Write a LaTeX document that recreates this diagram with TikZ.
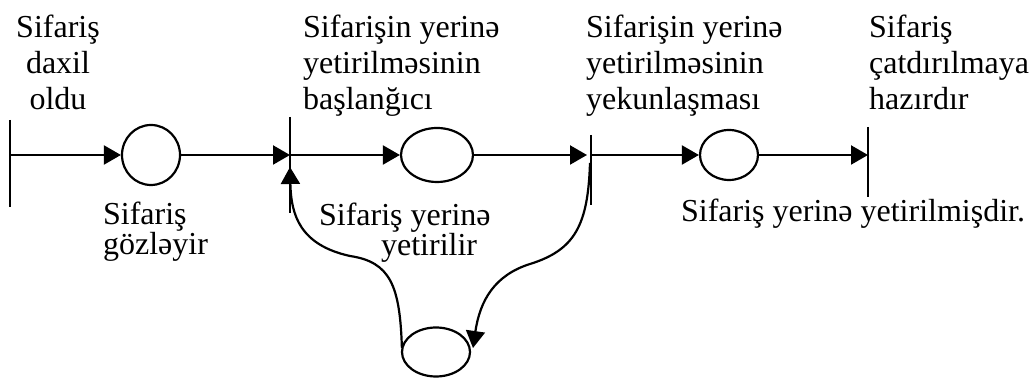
\documentclass[tikz,border=0pt]{standalone}
\usepackage{fontspec}
\setmainfont{Liberation Serif}
\usetikzlibrary{shapes.geometric, arrows.meta}
\def\firstbar{(10,120) -- (10,207)}
\def\secondbar{(290,117) -- (290,213)}
\def\thirdbar{(591,135) -- (591,205)}
\def\fourthbar{(868,127) -- (868,197)}
\def\toplabel{\fontsize{16}{18}\selectfont}
\def\lowlabel{\fontsize{16}{15}\selectfont}

\begin{document}
\begin{tikzpicture}[x=0.5pt, y=-0.5pt, line width=1.1pt,
	>={Triangle[length=8.5pt, width=9.5pt]},
	state/.style={draw, ellipse, inner sep=0pt},
	lbl/.style={inner sep=0pt}]
	\useasboundingbox (0,0) rectangle (1030,378);

	% bars
	\draw \firstbar;
	\draw \secondbar;
	\draw \thirdbar;
	\draw \fourthbar;
	\coordinate (entered) at (10,155);
	\coordinate (started) at (290,155);
	\coordinate (startedlow) at (290,167);
	\coordinate (finished) at (591,155);
	\coordinate (finishedlow) at (590,163);
	\coordinate (ready) at (868,155);

	% states
	\node[state, minimum width=29pt, minimum height=30pt] (waiting) at (151,155) {};
	\node[state, minimum width=36pt, minimum height=27pt] (running) at (437,155) {};
	\node[state, minimum width=29pt, minimum height=25pt] (done) at (729,155) {};
	\node[state, minimum width=34pt, minimum height=24.5pt] (back) at (436,352) {};

	\draw[->] (entered) -- (waiting);
	\draw[->] (waiting) -- (started);
	\draw[->] (started) -- (running);
	\draw[->, shorten >=2pt] (running) -- (finished);
	\draw[->] (finished) -- (done);
	\draw[->] (done) -- (ready);
%	\draw[->] (back) to[out=95, in=-90] (startedlow);
	\draw[->] (back.west) ++(1,-4) .. controls (400,285) and (390,262) .. (350,256)
		.. controls (300,245) and (291,215) .. (startedlow);
	\draw[->] (finishedlow) .. controls (588,225) and (575,250) .. (530,264)
		.. controls (495,275) and (480,300) .. (473,348);

	% labels
	\node[lbl, align=center, anchor=base, font=\toplabel] (t1) at (58,110) {Sifariş\\daxil\\oldu};
	\node[lbl, align=left, anchor=base west, font=\toplabel] (t2) at (302,110) {Sifarişin yerinə\\yetirilməsinin\\başlanğıcı};
	\node[lbl, align=left, anchor=base west, font=\toplabel] (t3) at (585,110) {Sifarişin yerinə\\yetirilməsinin\\yekunlaşması};
	\node[lbl, align=left, anchor=base west, font=\toplabel] (t4) at (868,110) {Sifariş\\çatdırılmaya\\hazırdır};
	\node[lbl, align=left, anchor=base west, font=\lowlabel] (l1) at (102,255) {Sifariş\\gözləyir};
	\node[lbl, align=left, anchor=base west, font=\lowlabel] (l2) at (318,256) {Sifariş yerinə\\\hspace*{31pt}yetirilir};
	\node[lbl, anchor=base west, font=\lowlabel] (l3) at (680,222) {Sifariş yerinə yetirilmişdir.};
\end{tikzpicture}
\end{document}
